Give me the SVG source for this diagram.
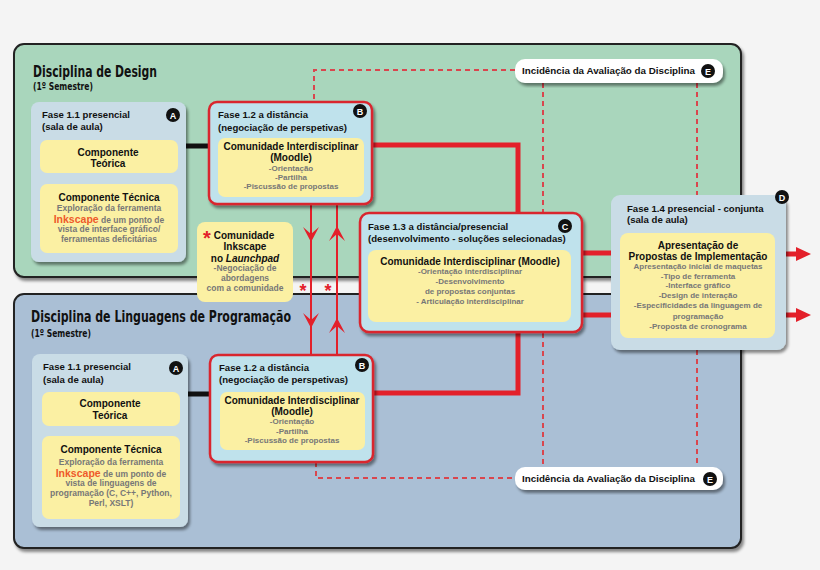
<svg xmlns="http://www.w3.org/2000/svg" width="820" height="570" viewBox="0 0 820 570">
<defs>
<filter id="sh" x="-10%" y="-10%" width="130%" height="130%">
<feDropShadow dx="2" dy="3" stdDeviation="1.5" flood-color="#000" flood-opacity="0.45"/>
</filter>
<style>
text{font-family:"Liberation Sans",Arial,sans-serif;font-weight:bold;fill:#111}
.ttl{font-family:"Liberation Sans Narrow","DejaVu Sans Condensed",sans-serif;font-size:16px}
.sem{font-family:"Liberation Sans Narrow","DejaVu Sans Condensed",sans-serif;font-size:11px}
.ph{font-size:9.6px}
.hd{font-size:10px;text-anchor:middle}
.gr{font-size:8px;fill:#777;text-anchor:middle}
.gr2{font-size:8.5px;fill:#777;text-anchor:middle}
.ink{font-size:10.5px;fill:#ee5a2a}
.bd{fill:#fff;font-size:9px;text-anchor:middle}
.panel{stroke:#222;stroke-width:2;filter:url(#sh)}
.p11{fill:#c9dce6;filter:url(#sh)}
.p12{fill:#bfe2ec;stroke:#d9262f;stroke-width:2.5;filter:url(#sh)}
.yl{fill:#fbf0a3}
.red{fill:none;stroke:#e3202a;stroke-width:5}
.blk{fill:none;stroke:#111;stroke-width:5}
.thin{fill:none;stroke:#e3202a;stroke-width:2}
.dash{fill:none;stroke:#d9464e;stroke-width:2;stroke-dasharray:5 4}
.ah{fill:#e3202a}
.star{fill:#e3202a}
</style>
</defs>
<rect x="0" y="0" width="820" height="570" fill="#f4f4f4"/>
<g id="panel-design">
<rect class="panel" x="14" y="44" width="727" height="233" rx="10" fill="#a9d6bc"/>
<text class="ttl" x="33" y="77" textLength="124" lengthAdjust="spacingAndGlyphs">Disciplina de Design</text>
<text class="sem" x="33" y="90" textLength="60" lengthAdjust="spacingAndGlyphs">(1º Semestre)</text>
</g>
<g id="panel-prog">
<rect class="panel" x="14" y="294" width="727" height="254" rx="10" fill="#aabfd5"/>
<text class="ttl" x="31" y="322" textLength="260" lengthAdjust="spacingAndGlyphs">Disciplina de Linguagens de Programação</text>
<text class="sem" x="31" y="337" textLength="60" lengthAdjust="spacingAndGlyphs">(1º Semestre)</text>
</g>
<g id="connectors">
<path class="dash" d="M515,70 H314 V102"/>
<path class="dash" d="M543,83 V212"/>
<path class="dash" d="M697,83 V195"/>
<path class="dash" d="M543,333 V468"/>
<path class="dash" d="M697,350 V468"/>
<path class="dash" d="M316,462 V478 H515"/>
<path class="blk" d="M186,146 H210"/>
<path class="blk" d="M188,394 H211"/>
<path class="red" d="M372,145 H518 V213"/>
<path class="red" d="M373,393 H518 V332"/>
<path class="red" d="M582,253 H612"/>
<path class="red" d="M582,315 H612"/>
<path class="red" d="M786,254 H797"/>
<path class="ah" d="M796,247 L811,254 L796,261 Z"/>
<path class="red" d="M786,315 H797"/>
<path class="ah" d="M796,308 L811,315 L796,322 Z"/>
<path class="thin" d="M311,204 V355"/>
<path class="thin" d="M337,204 V355"/>
<path class="ah" d="M311,242 L303,227 L311,234 L319,227 Z"/>
<path class="ah" d="M337,226 L329,241 L337,234 L345,241 Z"/>
<path class="ah" d="M311,328 L303,313 L311,320 L319,313 Z"/>
<path class="ah" d="M337,318 L329,333 L337,326 L345,333 Z"/>
<text class="star" x="303" y="297" font-size="18" text-anchor="middle">*</text>
<text class="star" x="328" y="297" font-size="18" text-anchor="middle">*</text>
</g>
<g id="fase11-design">
<rect class="p11" x="31" y="102" width="155" height="160" rx="8"/>
<text class="ph" x="42" y="118">Fase 1.1 presencial</text>
<text class="ph" x="42" y="130">(sala de aula)</text>
<circle cx="173" cy="115" r="7" fill="#111"/>
<text class="bd" x="173" y="118.5">A</text>
<rect class="yl" x="40" y="140" width="138" height="33" rx="7"/>
<text class="hd" x="108" y="156">Componente</text>
<text class="hd" x="108" y="167">Teórica</text>
<rect class="yl" x="40" y="184" width="138" height="69" rx="7"/>
<text class="hd" x="109" y="201">Componente Técnica</text>
<text class="gr2" x="109" y="211">Exploração da ferramenta</text>
<text class="gr2" x="109" y="223"><tspan class="ink">Inkscape</tspan> de um ponto de</text>
<text class="gr2" x="109" y="232">vista de interface gráfico/</text>
<text class="gr2" x="109" y="242">ferramentas deficitárias</text>
</g>
<g id="fase12-design">
<rect class="p12" x="209" y="102" width="163" height="102" rx="8"/>
<text class="ph" x="218" y="118">Fase 1.2 a distância</text>
<text class="ph" x="218" y="131">(negociação de perspetivas)</text>
<circle cx="360" cy="111" r="7" fill="#111"/>
<text class="bd" x="360" y="114.5">B</text>
<rect class="yl" x="218" y="138" width="146" height="59" rx="7"/>
<text class="hd" x="291" y="150">Comunidade Interdisciplinar</text>
<text class="hd" x="291" y="161">(Moodle)</text>
<text class="gr" x="291" y="171">-Orientação</text>
<text class="gr" x="291" y="180">-Partilha</text>
<text class="gr" x="291" y="189">-Piscussão de propostas</text>
</g>
<g id="comunidade-inkscape">
<rect class="yl" x="197" y="222" width="96" height="80" rx="8"/>
<text class="star" x="207" y="245" font-size="20" text-anchor="middle">*</text>
<text class="hd" x="244" y="239">Comunidade</text>
<text class="hd" x="245" y="250">Inkscape</text>
<text class="hd" x="245" y="262">no <tspan font-style="italic">Launchpad</tspan></text>
<text class="gr2" x="245" y="271">-Negociação de</text>
<text class="gr2" x="245" y="281">abordagens</text>
<text class="gr2" x="245" y="291">com a comunidade</text>
</g>
<g id="fase13">
<rect class="p12" x="360" y="213" width="222" height="119" rx="9"/>
<text class="ph" x="368" y="230">Fase 1.3 a distância/presencial</text>
<text class="ph" x="368" y="242">(desenvolvimento - soluções selecionadas)</text>
<circle cx="565" cy="226" r="7" fill="#111"/>
<text class="bd" x="565" y="229.5">C</text>
<rect class="yl" x="368" y="250" width="203" height="72" rx="8"/>
<text class="hd" x="470" y="265">Comunidade Interdisciplinar (Moodle)</text>
<text class="gr" x="470" y="274">-Orientação interdisciplinar</text>
<text class="gr" x="470" y="284">-Desenvolvimento</text>
<text class="gr" x="470" y="294">de propostas conjuntas</text>
<text class="gr" x="470" y="304">- Articulação interdisciplinar</text>
</g>
<g id="fase14">
<rect class="p11" x="611" y="195" width="175" height="155" rx="9"/>
<text class="ph" x="627" y="212">Fase 1.4 presencial - conjunta</text>
<text class="ph" x="627" y="223">(sala de aula)</text>
<circle cx="782" cy="197" r="7" fill="#111"/>
<text class="bd" x="782" y="200.5">D</text>
<rect class="yl" x="620" y="233" width="155" height="105" rx="8"/>
<text class="hd" x="698" y="249" font-size="10.5">Apresentação de</text>
<text class="hd" x="698" y="260" font-size="10.5">Propostas de Implementação</text>
<text class="gr" x="698" y="269">Apresentação inicial de maquetas</text>
<text class="gr" x="698" y="279">-Tipo de ferramenta</text>
<text class="gr" x="698" y="288">-Interface gráfico</text>
<text class="gr" x="698" y="298">-Design de interação</text>
<text class="gr" x="698" y="308">-Especificidades da linguagem de</text>
<text class="gr" x="698" y="319">programação</text>
<text class="gr" x="698" y="329">-Proposta de cronograma</text>
</g>
<g id="incidencia-design">
<rect x="515" y="59" width="208" height="24" rx="10" fill="#fff" filter="url(#sh)"/>
<text x="522" y="74" font-size="9.8">Incidência da Avaliação da Disciplina</text>
<circle cx="708" cy="71" r="7" fill="#111"/>
<text class="bd" x="708" y="74.5">E</text>
</g>
<g id="fase11-prog">
<rect class="p11" x="32" y="354" width="156" height="173" rx="8"/>
<text class="ph" x="43" y="370">Fase 1.1 presencial</text>
<text class="ph" x="43" y="383">(sala de aula)</text>
<circle cx="176" cy="368" r="7" fill="#111"/>
<text class="bd" x="176" y="371.5">A</text>
<rect class="yl" x="42" y="392" width="138" height="34" rx="7"/>
<text class="hd" x="110" y="407">Componente</text>
<text class="hd" x="110" y="419">Teórica</text>
<rect class="yl" x="42" y="436" width="138" height="83" rx="7"/>
<text class="hd" x="111" y="453">Componente Técnica</text>
<text class="gr2" x="111" y="465">Exploração da ferramenta</text>
<text class="gr2" x="111" y="477"><tspan class="ink">Inkscape</tspan> de um ponto de</text>
<text class="gr2" x="111" y="486">vista de linguagens de</text>
<text class="gr2" x="111" y="496">programação (C, C++, Python,</text>
<text class="gr2" x="111" y="506">Perl, XSLT)</text>
</g>
<g id="fase12-prog">
<rect class="p12" x="210" y="355" width="163" height="107" rx="8"/>
<text class="ph" x="219" y="371">Fase 1.2 a distância</text>
<text class="ph" x="219" y="383">(negociação de perspetivas)</text>
<circle cx="362" cy="365" r="7" fill="#111"/>
<text class="bd" x="362" y="368.5">B</text>
<rect class="yl" x="220" y="392" width="145" height="58" rx="7"/>
<text class="hd" x="292" y="404">Comunidade Interdisciplinar</text>
<text class="hd" x="292" y="415">(Moodle)</text>
<text class="gr" x="292" y="424">-Orientação</text>
<text class="gr" x="292" y="434">-Partilha</text>
<text class="gr" x="292" y="443">-Piscussão de propostas</text>
</g>
<g id="incidencia-prog">
<rect x="515" y="467" width="208" height="23" rx="10" fill="#fff" filter="url(#sh)"/>
<text x="522" y="482" font-size="9.8">Incidência da Avaliação da Disciplina</text>
<circle cx="710" cy="479" r="7" fill="#111"/>
<text class="bd" x="710" y="482.5">E</text>
</g>
</svg>
